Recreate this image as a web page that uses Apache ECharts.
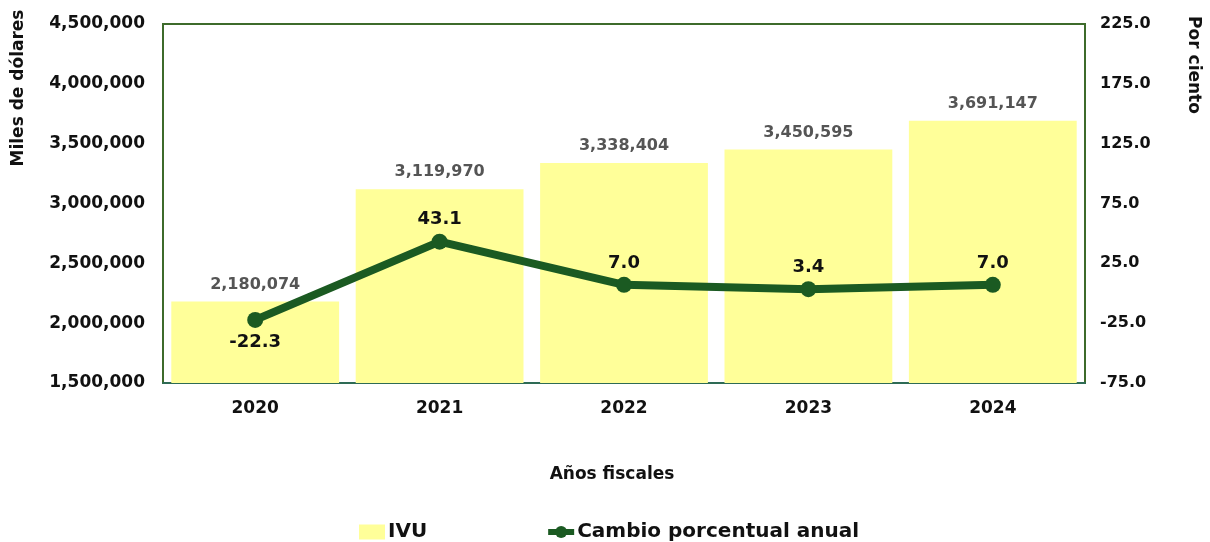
<!DOCTYPE html>
<html><head><meta charset="utf-8">
<script src="https://cdn.jsdelivr.net/npm/echarts@6/dist/echarts.min.js"></script>
<style>html,body{margin:0;padding:0;background:#fff}#c{width:1210px;height:542px}</style>
</head><body><div id="c"></div>
<script>
const categories = ['2020','2021','2022','2023','2024'];
const ivuValues = [2180074, 3119970, 3338404, 3450595, 3691147];
const changeValues = [-22.3, 43.1, 7.0, 3.4, 7.0];
const leftTicks = [1500000, 4500000, 500000];
const rightTicks = [-75, 225, 50];

const FONT = '"DejaVu Sans", sans-serif';
const LINE_COLOR = '#1b5a22';
const chart = echarts.init(document.getElementById('c'));
const fmt = v => v.toLocaleString('en-US');
const lineData = changeValues.map((v, i) => i === 0 ? {value: v, label: {position: 'bottom', distance: 5}} : v);
chart.setOption({
  animation: false,
  textStyle: {fontFamily: FONT},
  grid: {left: 163, right: 125, top: 24, bottom: 159, show: true, borderColor: '#3e6b2b', borderWidth: 2},
  xAxis: {
    type: 'category', data: categories,
    axisLine: {onZero: false, lineStyle: {color: '#2e6b55', width: 2}},
    axisTick: {show: false},
    axisLabel: {fontSize: 17, fontWeight: 'bold', color: '#111', margin: 17, fontFamily: FONT}
  },
  yAxis: [{
    type: 'value', min: leftTicks[0], max: leftTicks[1], interval: leftTicks[2],
    splitLine: {show: false}, axisLine: {show: false}, axisTick: {show: false},
    axisLabel: {fontSize: 17, fontWeight: 'bold', color: '#111', margin: 18, formatter: v => fmt(v), fontFamily: FONT}
  }, {
    type: 'value', min: rightTicks[0], max: rightTicks[1], interval: rightTicks[2],
    splitLine: {show: false}, axisLine: {show: false}, axisTick: {show: false},
    axisLabel: {fontSize: 16, fontWeight: 'bold', color: '#111', margin: 15, formatter: v => v.toFixed(1), fontFamily: FONT}
  }],
  legend: {
    top: 517, left: 354, itemGap: 118, itemWidth: 26, itemHeight: 15,
    textStyle: {fontSize: 20, fontWeight: 'bold', color: '#111', fontFamily: FONT, padding: [0,0,0,-2]},
    data: [
      {name: 'IVU', icon: 'rect'},
      {name: 'Cambio porcentual anual', lineStyle: {width: 6, color: LINE_COLOR}, itemStyle: {color: LINE_COLOR}}
    ]
  },
  graphic: [
    {type: 'text', x: 19, y: 88, rotation: Math.PI/2, style: {text: 'Miles de dólares', font: 'bold 17px ' + FONT, fill: '#111', align: 'center', verticalAlign: 'middle'}},
    {type: 'text', x: 1193, y: 65, rotation: -Math.PI/2, style: {text: 'Por ciento', font: 'bold 17px ' + FONT, fill: '#111', align: 'center', verticalAlign: 'middle'}},
    {type: 'text', x: 612, y: 475, style: {text: 'Años fiscales', font: 'bold 17px ' + FONT, fill: '#111', align: 'center', verticalAlign: 'middle'}}
  ],
  series: [{
    name: 'IVU', type: 'bar', data: ivuValues, barCategoryGap: '9%',
    itemStyle: {color: '#ffff99'},
    label: {show: true, position: 'top', distance: 9, formatter: p => fmt(p.value), fontSize: 16, fontWeight: 'bold', color: '#555', fontFamily: FONT}
  }, {
    name: 'Cambio porcentual anual', type: 'line', yAxisIndex: 1, data: lineData,
    lineStyle: {color: LINE_COLOR, width: 8}, itemStyle: {color: LINE_COLOR},
    symbol: 'circle', symbolSize: 16,
    label: {show: true, position: 'top', distance: 5, formatter: p => p.value.toFixed(1), fontSize: 18, fontWeight: 'bold', color: '#111', fontFamily: FONT}
  }]
});
</script></body></html>
